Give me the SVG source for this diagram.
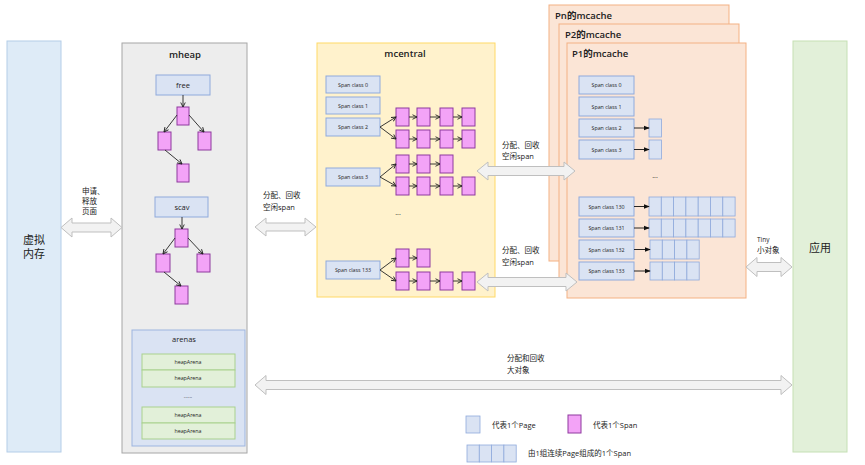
<svg xmlns="http://www.w3.org/2000/svg" width="865" height="465" viewBox="0 0 865 465">
<defs>
<style>
text{font-family:"Open Sans","Noto Sans CJK SC",sans-serif;fill:#222}
.sc{fill:#dae3f3;stroke:#8faadc;stroke-width:1}
.sp{fill:#f3a3f7;stroke:#8e3a9e;stroke-width:1}
.pg{fill:#dae3f3;stroke:#8faadc;stroke-width:0.8}
.ha{fill:#e2f0d9;stroke:#a9d18e;stroke-width:1}
.mc{fill:#fbe5d6;stroke:#f4b183;stroke-width:1}
.ba{fill:#f2f2f2;stroke:#bfbfbf;stroke-width:1}
.ln{stroke:#222;stroke-width:0.9;fill:none;marker-end:url(#ah)}
.lf{stroke:#111;stroke-width:0.9;fill:none;marker-end:url(#af)}
.t5{font-size:5.3px;text-anchor:middle}
.t7{font-size:7.5px}
.ttl{font-size:9.5px;font-weight:600}
.big{font-size:11px;text-anchor:middle}
</style>
<marker id="ah" viewBox="0 0 8 8" refX="7" refY="4" markerWidth="6" markerHeight="6" orient="auto" markerUnits="userSpaceOnUse"><path d="M1,1 L7,4 L1,7" fill="none" stroke="#222" stroke-width="1.2"/></marker>
<marker id="af" viewBox="0 0 8 8" refX="7" refY="4" markerWidth="6" markerHeight="6" orient="auto" markerUnits="userSpaceOnUse"><path d="M0,1 L8,4 L0,7 Z" fill="#111"/></marker>
</defs>
<rect width="865" height="465" fill="#fff"/>

<g id="virtual-memory">
<rect x="7" y="41" width="54" height="411" fill="#deebf7" stroke="#b4cde8"/>
<text class="big" x="34" y="244">虚拟</text>
<text class="big" x="34" y="258">内存</text>
</g>

<g id="app">
<rect x="793" y="41" width="54" height="411" fill="#e2f0d9" stroke="#c5e0b4"/>
<text class="big" x="820" y="252">应用</text>
</g>

<g id="mheap">
<rect x="122" y="43" width="125" height="410" fill="#ededed" stroke="#a6a6a6"/>
<text class="ttl" x="185" y="58" text-anchor="middle">mheap</text>
<rect class="sc" x="156" y="75" width="54" height="20"/>
<text x="183" y="88" font-size="7.5px" text-anchor="middle">free</text>
<rect class="sp" x="177" y="107" width="12" height="18"/>
<rect class="sp" x="158" y="132" width="13" height="18"/>
<rect class="sp" x="198" y="132" width="13" height="18"/>
<rect class="sp" x="177" y="164" width="12" height="18"/>
<rect class="sc" x="155" y="197" width="53" height="20"/>
<text x="182" y="210" font-size="7.5px" text-anchor="middle">scav</text>
<rect class="sp" x="175" y="229" width="13" height="18"/>
<rect class="sp" x="156" y="254" width="14" height="18"/>
<rect class="sp" x="197" y="254" width="13" height="18"/>
<rect class="sp" x="175" y="286" width="13" height="18"/>
</g>

<g id="arenas">
<rect x="132" y="330" width="113" height="116" fill="#dae3f3" stroke="#9db5e0"/>
<text x="184" y="342" font-size="7.5px" text-anchor="middle">arenas</text>
<rect class="ha" x="142" y="354" width="93" height="16"/>
<rect class="ha" x="142" y="370" width="93" height="17"/>
<text class="t5" x="188" y="398" fill="#777">......</text>
<rect class="ha" x="142" y="407" width="93" height="16"/>
<rect class="ha" x="142" y="423" width="93" height="16"/>
<text class="t5" x="188" y="364">heapArena</text>
<text class="t5" x="188" y="380">heapArena</text>
<text class="t5" x="188" y="417">heapArena</text>
<text class="t5" x="188" y="433">heapArena</text>
</g>

<g id="mcentral">
<rect x="317" y="43" width="178" height="254" fill="#fff2cc" stroke="#ffd966"/>
<text class="ttl" x="405" y="57" text-anchor="middle">mcentral</text>
<rect class="sc" x="326" y="76" width="54" height="17"/>
<rect class="sc" x="326" y="97" width="54" height="17"/>
<rect class="sc" x="326" y="118" width="54" height="18"/>
<rect class="sc" x="326" y="168" width="54" height="18"/>
<rect class="sc" x="326" y="261" width="54" height="18"/>
<text class="t5" x="353" y="86.5">Span class 0</text>
<text class="t5" x="353" y="107.5">Span class 1</text>
<text class="t5" x="353" y="129">Span class 2</text>
<text class="t5" x="353" y="179">Span class 3</text>
<text class="t5" x="353" y="272">Span class 133</text>
<g>
<rect class="sp" x="396" y="108" width="13" height="18"/><rect class="sp" x="417" y="108" width="13" height="18"/><rect class="sp" x="440" y="108" width="13" height="18"/><rect class="sp" x="462" y="108" width="13" height="18"/>
<rect class="sp" x="396" y="130" width="13" height="18"/><rect class="sp" x="417" y="130" width="13" height="18"/><rect class="sp" x="440" y="130" width="13" height="18"/><rect class="sp" x="462" y="130" width="13" height="18"/>
<rect class="sp" x="396" y="155" width="13" height="18"/><rect class="sp" x="417" y="155" width="13" height="18"/><rect class="sp" x="440" y="155" width="13" height="18"/>
<rect class="sp" x="396" y="177" width="13" height="18"/><rect class="sp" x="417" y="177" width="13" height="18"/><rect class="sp" x="440" y="177" width="13" height="18"/><rect class="sp" x="462" y="177" width="13" height="18"/>
<rect class="sp" x="396" y="249" width="13" height="18"/><rect class="sp" x="417" y="249" width="13" height="18"/>
<rect class="sp" x="396" y="272" width="13" height="18"/><rect class="sp" x="417" y="272" width="13" height="18"/><rect class="sp" x="440" y="272" width="13" height="18"/><rect class="sp" x="462" y="272" width="13" height="18"/>
</g>
<text x="398" y="215" font-size="7px" fill="#777" text-anchor="middle">...</text>
</g>

<g id="mcache-pn">
<rect class="mc" x="549" y="5" width="180" height="256"/>
<text class="ttl" x="555" y="19">Pn的mcache</text>
</g>
<g id="mcache-p2">
<rect class="mc" x="559" y="24" width="180" height="256"/>
<text class="ttl" x="565" y="38">P2的mcache</text>
</g>
<g id="mcache-p1">
<rect class="mc" x="567" y="43" width="179" height="255"/>
<text class="ttl" x="572" y="57">P1的mcache</text>
<rect class="sc" x="579" y="76" width="55" height="18"/>
<rect class="sc" x="579" y="97" width="55" height="19"/>
<rect class="sc" x="579" y="119" width="55" height="18"/>
<rect class="sc" x="579" y="140" width="55" height="19"/>
<rect class="sc" x="579" y="197" width="55" height="19"/>
<rect class="sc" x="579" y="219" width="55" height="18"/>
<rect class="sc" x="579" y="240" width="55" height="19"/>
<rect class="sc" x="579" y="262" width="55" height="18"/>
<text class="t5" x="606.5" y="87">Span class 0</text>
<text class="t5" x="606.5" y="108.5">Span class 1</text>
<text class="t5" x="606.5" y="130">Span class 2</text>
<text class="t5" x="606.5" y="151.5">Span class 3</text>
<text class="t5" x="606.5" y="208.5">Span class 130</text>
<text class="t5" x="606.5" y="230">Span class 131</text>
<text class="t5" x="606.5" y="251.5">Span class 132</text>
<text class="t5" x="606.5" y="273">Span class 133</text>
<text x="655" y="178" font-size="7px" fill="#777" text-anchor="middle">...</text>
<rect class="pg" x="649" y="119" width="12.5" height="18"/>
<rect class="pg" x="649" y="140" width="12.5" height="19"/>
<g>
<rect class="pg" x="649" y="197" width="12.3" height="19"/><rect class="pg" x="661.3" y="197" width="12.3" height="19"/><rect class="pg" x="673.6" y="197" width="12.3" height="19"/><rect class="pg" x="685.9" y="197" width="12.3" height="19"/><rect class="pg" x="698.2" y="197" width="12.3" height="19"/><rect class="pg" x="710.5" y="197" width="12.3" height="19"/><rect class="pg" x="722.8" y="197" width="12.3" height="19"/>
<rect class="pg" x="649" y="219" width="12.3" height="18"/><rect class="pg" x="661.3" y="219" width="12.3" height="18"/><rect class="pg" x="673.6" y="219" width="12.3" height="18"/><rect class="pg" x="685.9" y="219" width="12.3" height="18"/><rect class="pg" x="698.2" y="219" width="12.3" height="18"/><rect class="pg" x="710.5" y="219" width="12.3" height="18"/><rect class="pg" x="722.8" y="219" width="12.3" height="18"/>
<rect class="pg" x="650" y="240" width="12.3" height="19"/><rect class="pg" x="662.3" y="240" width="12.3" height="19"/><rect class="pg" x="674.6" y="240" width="12.3" height="19"/><rect class="pg" x="686.9" y="240" width="12.3" height="19"/>
<rect class="pg" x="650" y="262" width="12.3" height="18"/><rect class="pg" x="662.3" y="262" width="12.3" height="18"/><rect class="pg" x="674.6" y="262" width="12.3" height="18"/><rect class="pg" x="686.9" y="262" width="12.3" height="18"/>
</g>
</g>

<g id="legend">
<rect class="pg" x="466" y="416" width="14" height="17"/>
<text class="t7" x="492" y="428">代表1个Page</text>
<rect class="sp" x="568" y="415" width="13" height="18"/>
<text class="t7" x="593" y="428">代表1个Span</text>
<rect class="pg" x="467" y="445" width="12.3" height="17"/><rect class="pg" x="479.3" y="445" width="12.3" height="17"/><rect class="pg" x="491.6" y="445" width="12.3" height="17"/><rect class="pg" x="503.9" y="445" width="12.3" height="17"/>
<text class="t7" x="528" y="456">由1组连续Page组成的1个Span</text>
</g>

<g id="connectors">
<line class="ln" x1="183" y1="95" x2="183" y2="107"/>
<line class="ln" x1="177" y1="115" x2="164" y2="132"/>
<line class="ln" x1="189" y1="115" x2="204" y2="132"/>
<line class="ln" x1="165" y1="150" x2="182" y2="164"/>
<line class="ln" x1="182" y1="217" x2="182" y2="229"/>
<line class="ln" x1="175" y1="238" x2="163" y2="254"/>
<line class="ln" x1="188" y1="238" x2="203" y2="254"/>
<line class="ln" x1="164" y1="272" x2="181" y2="286"/>

<line class="ln" x1="380" y1="127" x2="396" y2="117"/>
<line class="ln" x1="380" y1="127" x2="396" y2="139"/>
<line class="ln" x1="380" y1="177" x2="396" y2="164"/>
<line class="ln" x1="380" y1="177" x2="396" y2="186"/>
<line class="ln" x1="380" y1="270" x2="396" y2="258"/>
<line class="ln" x1="380" y1="270" x2="396" y2="281"/>
<line class="ln" x1="409" y1="117" x2="417" y2="117"/><line class="ln" x1="430" y1="117" x2="440" y2="117"/><line class="ln" x1="453" y1="117" x2="462" y2="117"/>
<line class="ln" x1="409" y1="139" x2="417" y2="139"/><line class="ln" x1="430" y1="139" x2="440" y2="139"/><line class="ln" x1="453" y1="139" x2="462" y2="139"/>
<line class="ln" x1="409" y1="164" x2="417" y2="164"/><line class="ln" x1="430" y1="164" x2="440" y2="164"/>
<line class="ln" x1="409" y1="186" x2="417" y2="186"/><line class="ln" x1="430" y1="186" x2="440" y2="186"/><line class="ln" x1="453" y1="186" x2="462" y2="186"/>
<line class="ln" x1="409" y1="258" x2="417" y2="258"/>
<line class="ln" x1="409" y1="281" x2="417" y2="281"/><line class="ln" x1="430" y1="281" x2="440" y2="281"/><line class="ln" x1="453" y1="281" x2="462" y2="281"/>

<line class="lf" x1="634" y1="128" x2="649" y2="128"/>
<line class="lf" x1="634" y1="149.5" x2="649" y2="149.5"/>
<line class="lf" x1="634" y1="206.5" x2="649" y2="206.5"/>
<line class="lf" x1="634" y1="228" x2="649" y2="228"/>
<line class="lf" x1="634" y1="249.5" x2="650" y2="249.5"/>
<line class="lf" x1="634" y1="271" x2="650" y2="271"/>

<path class="ba" d="M61,227.5 L72,218 L72,223 L111,223 L111,218 L122,227.5 L111,237 L111,232 L72,232 L72,237 Z"/>
<path class="ba" d="M255,227 L266,218 L266,223 L305,223 L305,218 L316,227 L305,236 L305,231 L266,231 L266,236 Z"/>
<path class="ba" d="M477,171 L488,162 L488,166.5 L564,166.5 L564,162 L575,171 L564,180 L564,175.5 L488,175.5 L488,180 Z"/>
<path class="ba" d="M477,282 L488,273 L488,277.5 L566,277.5 L566,273 L577,282 L566,291 L566,286.5 L488,286.5 L488,291 Z"/>
<path class="ba" d="M746,267 L757,257.5 L757,262.5 L781,262.5 L781,257.5 L792,267 L781,276.5 L781,271.5 L757,271.5 L757,276.5 Z"/>
<path class="ba" d="M255,385 L266,375.5 L266,380.5 L781,380.5 L781,375.5 L792,385 L781,394.5 L781,389.5 L266,389.5 L266,394.5 Z"/>

<text class="t7" x="82" y="194">申请、</text>
<text class="t7" x="82" y="204">释放</text>
<text class="t7" x="82" y="214">页面</text>
<text class="t7" x="263" y="198">分配、回收</text>
<text class="t7" x="263" y="210">空闲span</text>
<text class="t7" x="502" y="148">分配、回收</text>
<text class="t7" x="502" y="159">空闲span</text>
<text class="t7" x="502" y="253">分配、回收</text>
<text class="t7" x="502" y="265">空闲span</text>
<text x="757" y="242" font-size="6.5px">Tiny</text>
<text class="t7" x="757" y="253">小对象</text>
<text class="t7" x="507" y="361">分配和回收</text>
<text class="t7" x="507" y="373">大对象</text>
</g>
</svg>
